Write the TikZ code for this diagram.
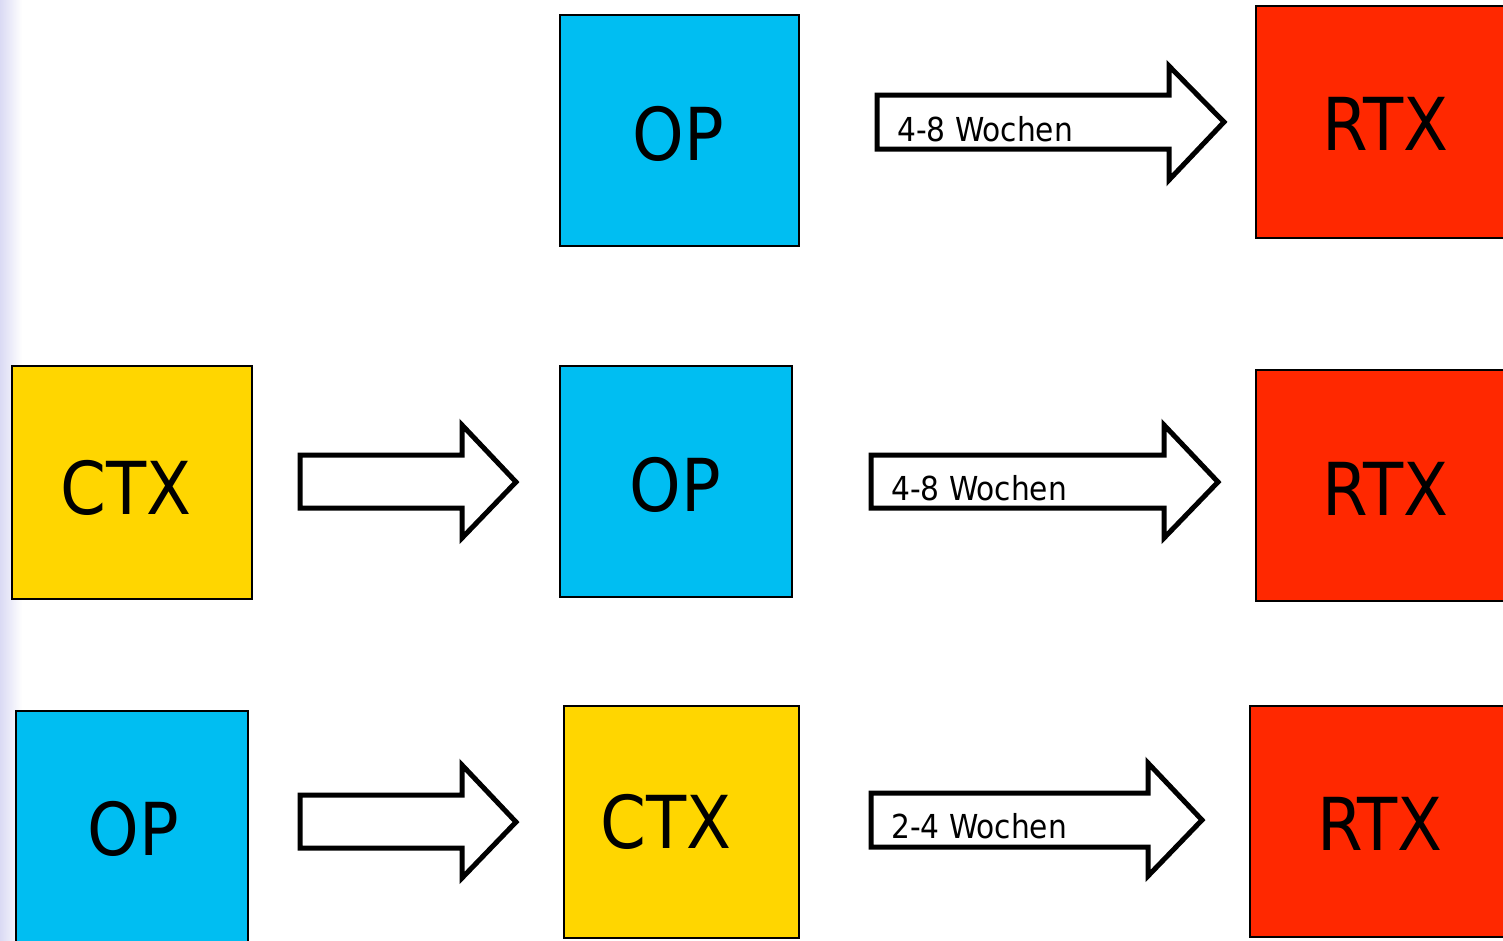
\documentclass[tikz,border=0pt]{standalone}
\usepackage{fontspec}
\setmainfont{DejaVu Sans Condensed}
\definecolor{opblue}{RGB}{0,190,242}
\definecolor{ctxyellow}{RGB}{255,214,0}
\definecolor{rtxred}{RGB}{255,40,0}
\definecolor{lav}{RGB}{218,218,244}
\tikzset{
  box/.style={draw=black, line width=2.5pt, inner sep=0pt, rectangle},
  boxtext/.style={inner sep=0pt, text height=53pt, text depth=0pt, font=\fontsize{73}{80}\selectfont},
  blockarrow/.style={draw=black, fill=white, line width=5pt, miter limit=10},
  arrowlabel/.style={inner sep=0pt, anchor=base west, font=\fontsize{33}{40}\selectfont}
}
\begin{document}
\begin{tikzpicture}[x=1pt, y=-1pt]
\useasboundingbox (0,0) rectangle (1503,940);
\clip (0,0) rectangle (1503,940);
\fill[white] (0,0) rectangle (1503,940);
\shade[left color=lav, right color=white] (0,0) rectangle (22,940);

% Row 1
\node[box, fill=opblue, minimum width=239pt, minimum height=231pt] (op1) at (679.5,130.5) {};
\node[boxtext] (op1t) at (678,133.5) {OP};
\draw[blockarrow] (877,95) -- (1169,95) -- (1169,66) -- (1224,122) -- (1169,180) -- (1169,149) -- (877,149) -- cycle;
\node[arrowlabel] (l1) at (897,141) {4-8 Wochen};
\node[box, fill=rtxred, minimum width=259pt, minimum height=232pt] (rtx1) at (1385.5,122) {};
\node[boxtext] (rtx1t) at (1385.5,124) {RTX};

% Row 2
\node[box, fill=ctxyellow, minimum width=240pt, minimum height=233pt] (ctx2) at (132,482.5) {};
\node[boxtext] (ctx2t) at (126,488) {CTX};
\draw[blockarrow] (300,455) -- (462,455) -- (462,425) -- (516,482) -- (462,538) -- (462,508) -- (300,508) -- cycle;
\node[box, fill=opblue, minimum width=232pt, minimum height=231pt] (op2) at (676,481.5) {};
\node[boxtext] (op2t) at (675,485) {OP};
\draw[blockarrow] (871,455) -- (1164,455) -- (1164,425) -- (1218,482) -- (1164,538) -- (1164,508) -- (871,508) -- cycle;
\node[arrowlabel] (l2) at (891,500) {4-8 Wochen};
\node[box, fill=rtxred, minimum width=259pt, minimum height=231pt] (rtx2) at (1385.5,485.5) {};
\node[boxtext] (rtx2t) at (1385.5,489) {RTX};

% Row 3
\node[box, fill=opblue, minimum width=232pt, minimum height=240pt] (op3) at (132,831) {};
\node[boxtext] (op3t) at (133,829) {OP};
\draw[blockarrow] (300,795) -- (462,795) -- (462,765) -- (516,822) -- (462,878) -- (462,848) -- (300,848) -- cycle;
\node[box, fill=ctxyellow, minimum width=235pt, minimum height=232pt] (ctx3) at (681.5,822) {};
\node[boxtext] (ctx3t) at (666,822) {CTX};
\draw[blockarrow] (871,793) -- (1148,793) -- (1148,763) -- (1202,820) -- (1148,876) -- (1148,847) -- (871,847) -- cycle;
\node[arrowlabel] (l3) at (891,838) {2-4 Wochen};
\node[box, fill=rtxred, minimum width=260pt, minimum height=231pt] (rtx3) at (1380,821.5) {};
\node[boxtext] (rtx3t) at (1380,824) {RTX};
\end{tikzpicture}
\end{document}
